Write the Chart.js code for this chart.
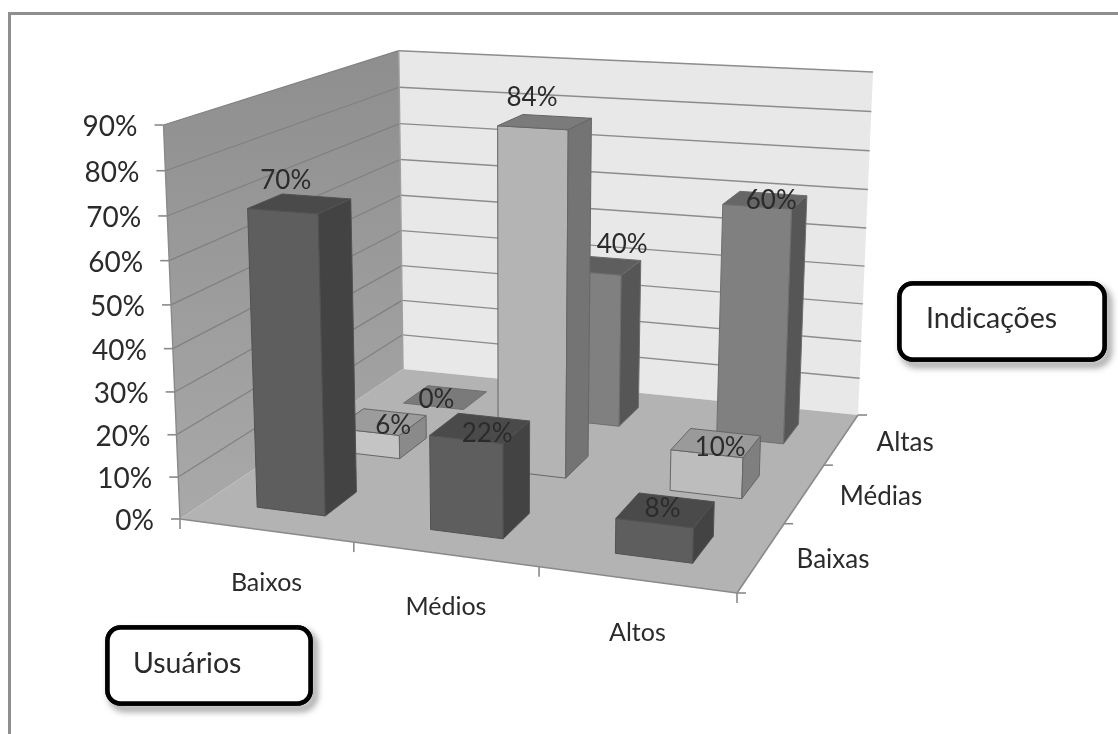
<!DOCTYPE html>
<html lang="pt">
<head>
<meta charset="utf-8">
<title>Usuários x Indicações</title>
<script src="https://cdn.jsdelivr.net/npm/chart.js@4"></script>
<style>
  html, body { margin: 0; background: #fff; }
  canvas { display: block; }
</style>
</head>
<body>
<canvas id="grafico" width="1118" height="734"></canvas>
<script>
/* ── grafico de colunas 3D: usuarios x indicacoes ── */

const USUARIOS   = ['Baixos', 'Médios', 'Altos'];
const INDICACOES = ['Baixas', 'Médias', 'Altas'];
const TICKS_Y    = ['0%', '10%', '20%', '30%', '40%', '50%', '60%', '70%', '80%', '90%'];

const BAIXAS = [70, 22, 8];
const MEDIAS = [6, 84, 10];
const ALTAS  = [0, 40, 60];

/* deslocamento de cada rotulo de valor em relacao ao topo da coluna */
const AJUSTE_ROTULOS = [
  [[-14, -23], [7, 5], [-3, -1]],
  [[12, 4], [-13, -24], [4, 5]],
  [[-9, 2], [23, -21], [6, 1]]
];

const FONTE = 'Lato, Carlito, sans-serif';
const COR_TEXTO = '#2b2b2b';
const COR_LINHA = '#8a8a8a';

/* camera: cantos do piso e ponto de fuga das verticais */
const PISO = [[180, 519], [737, 593], [858, 415], [403, 369]];
const FUGA = [509, 8367];
const TOPO_ESQ_Y = 125;

function criarCamera() {
  const [[x0, y0], [x1, y1], [x2, y2], [x3, y3]] = PISO;
  const dx1 = x1 - x2, dx2 = x3 - x2, sx = x0 - x1 + x2 - x3;
  const dy1 = y1 - y2, dy2 = y3 - y2, sy = y0 - y1 + y2 - y3;
  const den = dx1 * dy2 - dx2 * dy1;
  const g = (sx * dy2 - dx2 * sy) / den;
  const h = (dx1 * sy - sx * dy1) / den;
  const a = x1 - x0 + g * x1, b = x3 - x0 + h * x3;
  const d = y1 - y0 + g * y1, e = y3 - y0 + h * y3;
  const s = (TOPO_ESQ_Y - y0) / (FUGA[1] - TOPO_ESQ_Y);
  // u = largura, w = profundidade, v = altura (todos de 0 a 1)
  return (u, w, v) => {
    const q = g * u + h * w + 1 + s * v;
    return [
      (a * u + b * w + x0 + s * v * FUGA[0]) / q,
      (d * u + e * w + y0 + s * v * FUGA[1]) / q
    ];
  };
}
const proj = criarCamera();

function poligono(ctx, pts, cor, borda) {
  ctx.beginPath();
  pts.forEach((p, i) => i ? ctx.lineTo(p[0], p[1]) : ctx.moveTo(p[0], p[1]));
  ctx.closePath();
  ctx.fillStyle = cor;
  ctx.fill();
  if (borda) {
    ctx.strokeStyle = borda;
    ctx.lineWidth = 1;
    ctx.stroke();
  }
}

function linha(ctx, a, b, cor, larg) {
  ctx.beginPath();
  ctx.moveTo(a[0], a[1]);
  ctx.lineTo(b[0], b[1]);
  ctx.strokeStyle = cor;
  ctx.lineWidth = larg;
  ctx.stroke();
}

function fracaoY(y, valor) { return (y.bottom - y.getPixelForValue(valor)) / y.height; }
function fracaoX(esc, px) { return (px - esc.left) / esc.width; }

/* colunas em caixa: reaproveita o layout do BarController e so troca o desenho */
class Coluna3d extends Chart.BarController {
  draw() {
    const ctx = this.chart.ctx;
    const meta = this.getMeta();
    const ds = this.getDataset();
    const { x, y, profundidade } = this.chart.scales;
    const largZ = 0.4 / INDICACOES.length / 2;
    const wc = fracaoX(profundidade, profundidade.getPixelForValue(this.index));
    const w1 = wc - largZ, w2 = wc + largZ;

    meta.data.forEach((barra, i) => {
      const u1 = fracaoX(x, barra.x - barra.width / 2);
      const u2 = fracaoX(x, barra.x + barra.width / 2);
      const v = fracaoY(y, ds.data[i]);
      const borda = ds.corBorda;
      if (v > 0) {
        poligono(ctx, [proj(u1, w1, 0), proj(u2, w1, 0), proj(u2, w1, v), proj(u1, w1, v)], ds.corFrente[i], borda);
        poligono(ctx, [proj(u2, w1, 0), proj(u2, w2, 0), proj(u2, w2, v), proj(u2, w1, v)], ds.corLado[i], borda);
      }
      poligono(ctx, [proj(u1, w1, v), proj(u2, w1, v), proj(u2, w2, v), proj(u1, w2, v)], ds.corTopo[i], borda);
    });
  }
}
Coluna3d.id = 'coluna3d';
Coluna3d.defaults = Chart.BarController.defaults;
Coluna3d.overrides = Chart.BarController.overrides;
Chart.register(Coluna3d);

/* paredes, piso, grades e marcas dos eixos */
const cenario = {
  id: 'cenario',
  beforeDatasetsDraw(chart) {
    const ctx = chart.ctx;
    const y = chart.scales.y;

    // moldura
    ctx.save();
    ctx.strokeStyle = '#8f8f8f';
    ctx.lineWidth = 3;
    ctx.beginPath();
    ctx.moveTo(9.5, 734);
    ctx.lineTo(9.5, 13.5);
    ctx.lineTo(1118, 13.5);
    ctx.stroke();

    const grad = ctx.createLinearGradient(0, proj(0, 1, 1)[1], 0, proj(0, 0, 0)[1]);
    grad.addColorStop(0, '#8e8e8e');
    grad.addColorStop(1, '#a9a9a9');
    poligono(ctx, [proj(0, 0, 0), proj(0, 1, 0), proj(0, 1, 1), proj(0, 0, 1)], grad);
    poligono(ctx, [proj(0, 1, 0), proj(1, 1, 0), proj(1, 1, 1), proj(0, 1, 1)], '#e8e8e8');
    poligono(ctx, [proj(0, 0, 0), proj(1, 0, 0), proj(1, 1, 0), proj(0, 1, 0)], '#b3b3b3');

    y.ticks.forEach(t => {
      const v = fracaoY(y, t.value);
      if (v > 0) {
        linha(ctx, proj(0, 0, v), proj(0, 1, v), '#808080', 1.2);
        linha(ctx, proj(0, 1, v), proj(1, 1, v), '#8c8c8c', 1.4);
      }
      const p = proj(0, 0, v);
      linha(ctx, p, [p[0] - 9, p[1]], COR_LINHA, 1.6);
    });

    linha(ctx, proj(0, 1, 0), proj(0, 1, 1), '#a0a0a0', 1.4);
    linha(ctx, proj(0, 0, 0), proj(0, 0, 1), COR_LINHA, 1.4);
    linha(ctx, proj(0, 0, 0), proj(1, 0, 0), COR_LINHA, 1.6);
    linha(ctx, proj(1, 0, 0), proj(1, 1, 0), COR_LINHA, 1.6);

    for (let i = 0; i <= USUARIOS.length; i++) {
      const p = proj(i / USUARIOS.length, 0, 0);
      linha(ctx, p, [p[0], p[1] + 10], COR_LINHA, 1.6);
    }
    for (let i = 0; i <= INDICACOES.length; i++) {
      const p = proj(1, i / INDICACOES.length, 0);
      linha(ctx, p, [p[0] + 9, p[1]], COR_LINHA, 1.6);
    }
    ctx.restore();
  },
  afterDatasetsDraw(chart) {
    const ctx = chart.ctx;
    const { x, y, profundidade } = chart.scales;
    ctx.save();
    ctx.fillStyle = COR_TEXTO;
    ctx.textBaseline = 'middle';

    // eixo de valores
    ctx.font = '28px ' + FONTE;
    ctx.textAlign = 'right';
    y.ticks.forEach((t, i) => {
      const p = proj(0, 0, fracaoY(y, t.value));
      ctx.fillText(TICKS_Y[i], p[0] - 26, p[1] + 2);
    });

    // eixos de categorias
    ctx.font = '25px ' + FONTE;
    ctx.textAlign = 'center';
    USUARIOS.forEach((nome, i) => {
      const p = proj(fracaoX(x, x.getPixelForValue(i)), 0, 0);
      ctx.fillText(nome, p[0] + 1, p[1] + 53);
    });
    ctx.textAlign = 'left';
    ctx.font = '26px ' + FONTE;
    INDICACOES.forEach((nome, i) => {
      const p = proj(1, fracaoX(profundidade, profundidade.getPixelForValue(i)), 0);
      ctx.fillText(nome, p[0] + 35, p[1] + 3);
    });

    // rotulos de valor
    ctx.font = '26px ' + FONTE;
    ctx.textAlign = 'center';
    chart.data.datasets.forEach((ds, k) => {
      const meta = chart.getDatasetMeta(k);
      const w = fracaoX(profundidade, profundidade.getPixelForValue(k));
      ds.data.forEach((valor, i) => {
        const p = proj(fracaoX(x, meta.data[i].x), w, fracaoY(y, valor));
        const [dx, dy] = AJUSTE_ROTULOS[k][i];
        ctx.fillText(valor + '%', p[0] + dx, p[1] + dy);
      });
    });

    caixa(ctx, 899.5, 283.5, 205, 76, 'Indicações', 926, 319);
    caixa(ctx, 107.5, 627.5, 203, 76, 'Usuários', 133, 664);
    ctx.restore();
  }
};

function caixa(ctx, x, y, l, a, texto, tx, ty) {
  ctx.save();
  ctx.beginPath();
  ctx.roundRect(x, y, l, a, 13);
  ctx.fillStyle = '#fff';
  ctx.shadowColor = 'rgba(0,0,0,0.55)';
  ctx.shadowBlur = 7;
  ctx.shadowOffsetX = 4;
  ctx.shadowOffsetY = 5;
  ctx.strokeStyle = '#000';
  ctx.lineWidth = 4.5;
  ctx.stroke();
  ctx.shadowColor = 'transparent';
  ctx.fill();
  ctx.stroke();
  ctx.fillStyle = COR_TEXTO;
  ctx.textAlign = 'left';
  ctx.textBaseline = 'middle';
  ctx.font = '28.5px ' + FONTE;
  ctx.fillText(texto, tx, ty);
  ctx.restore();
}

new Chart(document.getElementById('grafico'), {
  type: 'coluna3d',
  data: {
    labels: USUARIOS,
    datasets: [
      {
        label: INDICACOES[0], data: BAIXAS, corBorda: '#525252', clip: false,
        corFrente: ['#5e5e5e', '#5e5e5e', '#5e5e5e'],
        corLado:   ['#434343', '#434343', '#434343'],
        corTopo:   ['#4a4a4a', '#4a4a4a', '#4a4a4a']
      },
      {
        label: INDICACOES[1], data: MEDIAS, corBorda: '#666666', clip: false,
        corFrente: ['#c4c4c4', '#b4b4b4', '#bdbdbd'],
        corLado:   ['#8a8a8a', '#747474', '#7f7f7f'],
        corTopo:   ['#9c9c9c', '#7b7b7b', '#9a9a9a']
      },
      {
        label: INDICACOES[2], data: ALTAS, corBorda: '#6e6e6e', clip: false,
        corFrente: ['#808080', '#808080', '#808080'],
        corLado:   ['#565656', '#565656', '#565656'],
        corTopo:   ['#7a7a7a', '#5e5e5e', '#666666']
      }
    ]
  },
  options: {
    responsive: false,
    animation: false,
    grouped: false,
    barPercentage: 0.4,
    categoryPercentage: 1,
    layout: { padding: { left: 180, right: 381, top: 125, bottom: 215 } },
    plugins: { legend: { display: false }, tooltip: { enabled: false } },
    scales: {
      x: { type: 'category', display: false, offset: true },
      profundidade: { type: 'category', axis: 'x', labels: INDICACOES, display: false, offset: true },
      y: { type: 'linear', display: false, min: 0, max: 90, ticks: { stepSize: 10 } }
    }
  },
  plugins: [cenario]
});
</script>
</body>
</html>
